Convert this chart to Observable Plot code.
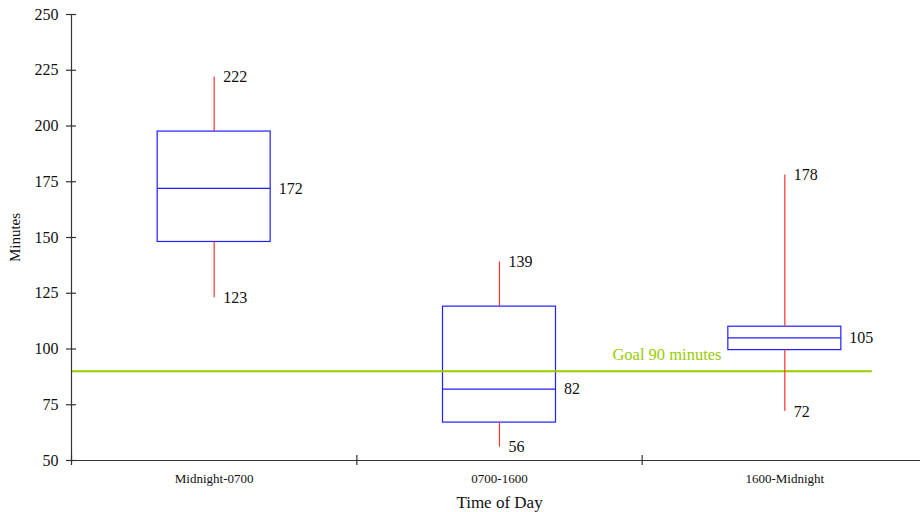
<!DOCTYPE html>
<html>
<head>
<meta charset="utf-8">
<script src="https://cdn.jsdelivr.net/npm/d3@7"></script>
<script src="https://cdn.jsdelivr.net/npm/@observablehq/plot@0.6"></script>
<style>
  html, body { margin: 0; padding: 0; background: #fff; overflow: hidden; }
  #chart svg { display: block; overflow: visible; }
</style>
</head>
<body>
<div id="chart"></div>
<script>
// ---- data ----
const categories = ["Midnight-0700", "0700-1600", "1600-Midnight"];
const mins    = [123, 56, 72];
const q1s     = [148, 67, 99.5];
const medians = [172, 82, 105];
const q3s     = [197.5, 119, 110];
const maxs    = [222, 139, 178];
const yTicks  = [50, 75, 100, 125, 150, 175, 200, 225, 250];
const goal    = 90;
const goalLabel = "Goal 90 minutes";

// ---- build table ----
const rows = categories.map((c, i) => ({
  cat: c, i, min: mins[i], q1: q1s[i], med: medians[i], q3: q3s[i], max: maxs[i]
}));

const HW = 0.198;      // half box width in band units
const TX = 5 / 285.33; // half tick length (x units)
const TY = 5 / 2.23;   // half tick length (y units)
const font = "'Liberation Serif', 'Times New Roman', serif";
const blue = "#1f1fff";
const red = "#ff3030";
const green = "#99cc00";
const axisCol = "#333";

const chart = Plot.plot({
  width: 920,
  height: 512,
  marginLeft: 0, marginRight: 0, marginTop: 0, marginBottom: 0,
  style: { fontFamily: font, background: "white", overflow: "visible" },
  x: { type: "linear", domain: [0, 3], range: [71, 927], axis: null },
  y: { type: "linear", domain: [50, 250], range: [460, 14], axis: null },
  marks: [
    // boxes
    Plot.rect(rows, { x1: d => d.i + 0.5 - HW, x2: d => d.i + 0.5 + HW, y1: "q1", y2: "q3",
      fill: "none", stroke: blue, strokeWidth: 1.2 }),
    // medians
    Plot.ruleY(rows, { y: "med", x1: d => d.i + 0.5 - HW, x2: d => d.i + 0.5 + HW,
      stroke: blue, strokeWidth: 1.2 }),
    // goal line
    Plot.ruleY([goal], { x1: 0, x2: 2.8063, stroke: green, strokeWidth: 2 }),
    Plot.text([goalLabel], { x: 2.278, y: goal, text: d => d, dy: -17, textAnchor: "end",
      fill: green, fontSize: 16.5, fontFamily: font }),
    // whiskers
    Plot.ruleX(rows, { x: d => d.i + 0.5, y1: "q3", y2: "max", stroke: red, strokeWidth: 1.2 }),
    Plot.ruleX(rows, { x: d => d.i + 0.5, y1: "min", y2: "q1", stroke: red, strokeWidth: 1.2 }),
    // value labels
    Plot.text(rows, { x: d => d.i + 0.5, y: "max", text: d => String(d.max), dx: 9, textAnchor: "start",
      fontSize: 16, fill: "#111", fontFamily: font }),
    Plot.text(rows, { x: d => d.i + 0.5 + HW, y: "med", text: d => String(d.med), dx: 8, textAnchor: "start",
      fontSize: 16, fill: "#111", fontFamily: font }),
    Plot.text(rows, { x: d => d.i + 0.5, y: "min", text: d => String(d.min), dx: 9, textAnchor: "start",
      fontSize: 16, fill: "#111", fontFamily: font }),
    // y axis
    Plot.ruleX([0], { y1: 50, y2: 250, stroke: axisCol, strokeWidth: 1.2 }),
    Plot.ruleY(yTicks, { y: d => d, x1: -TX, x2: TX, stroke: axisCol, strokeWidth: 1.2 }),
    Plot.text(yTicks, { x: 0, y: d => d, text: d => String(d), dx: -13, textAnchor: "end",
      fontSize: 16, fill: "#111", fontFamily: font }),
    Plot.text(["Minutes"], { x: 0, y: 150, text: d => d, dx: -56, rotate: -90,
      fontSize: 15, fill: "#111", fontFamily: font }),
    // x axis
    Plot.ruleY([50], { x1: 0, x2: 3, stroke: axisCol, strokeWidth: 1.2 }),
    Plot.ruleX([0, 1, 2], { x: d => d, y1: 50 - TY, y2: 50 + TY, stroke: axisCol, strokeWidth: 1.2 }),
    Plot.text(rows, { x: d => d.i + 0.5, y: 50, text: "cat", dy: 18,
      fontSize: 13, fill: "#111", fontFamily: font }),
    Plot.text(["Time of Day"], { x: 1.5, y: 50, text: d => d, dy: 42,
      fontSize: 17, fill: "#111", fontFamily: font })
  ]
});

document.getElementById("chart").appendChild(chart);
</script>
</body>
</html>
